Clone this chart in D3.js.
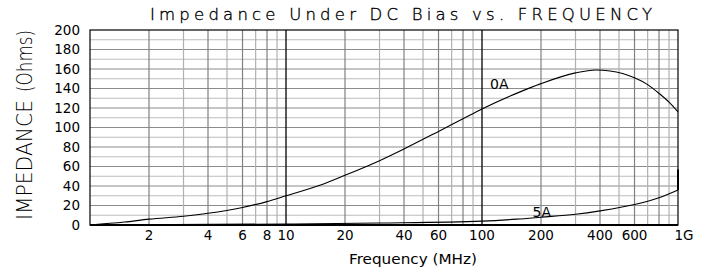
<!DOCTYPE html>
<html><head><meta charset="utf-8">
<script src="https://cdn.jsdelivr.net/npm/d3@7"></script>
<style>body{margin:0;background:#fff}svg{display:block}</style>
</head><body>
<script>
const title = "Impedance  Under  DC  Bias  vs.  FREQUENCY";
const yLabelMain = "IMPEDANCE";
const yLabelUnit = "(Ohms)";
const xLabel = "Frequency (MHz)";
const yTicks = [0,20,40,60,80,100,120,140,160,180,200];
const xTickVals = [2,4,6,8,10,20,40,60,100,200,400,600,1000];
const xTickLabels = ["2","4","6","8","10","20","40","60","100","200","400","600","1G"];
const freq0A = [1,1.5,2,3,4,6,8,10,15,20,30,40,60,80,100,150,200,300,380,450,600,700,800,900,1000];
const imp0A  = [0,3,6,9,12,18,24,30,41,51,66,78,96,109,119,135,145,156,159,158,151,144,135,126,116];
const freq5A = [1,10,30,100,150,200,300,400,600,800,1000,1000];
const imp5A  = [0,1,2,4,6,8,11,14.5,21,28,36,57];
const seriesLabels = [{text:"0A", f:110, v:139.5},{text:"5A", f:181, v:8.2}];

const W=707,H=274;
const m={l:90,r:29,t:30,b:49};
const svg=d3.select("body").append("svg").attr("width",W).attr("height",H);
const x=d3.scaleLog().domain([1,1000]).range([m.l,W-m.r]);
const y=d3.scaleLinear().domain([0,200]).range([H-m.b,m.t]);
const FONT="DejaVu Sans";

// grid
const hg=d3.range(10,200,10);
svg.append("g").selectAll("line").data(hg).join("line")
 .attr("x1",x(1)).attr("x2",x(1000)).attr("y1",d=>y(d)).attr("y2",d=>y(d))
 .attr("stroke",d=>d%20===0?"#8c8c8c":"#bdbdbd").attr("stroke-width",1.2);
const vg=[];
[1,10,100].forEach(dec=>{for(let k=2;k<=9;k++)vg.push(dec*k);});
svg.append("g").selectAll("line").data(vg).join("line")
 .attr("x1",d=>x(d)).attr("x2",d=>x(d)).attr("y1",y(0)).attr("y2",y(200))
 .attr("stroke",d=>{const k=Math.round(d/Math.pow(10,Math.floor(Math.log10(d)+1e-9)));return k%2===0?"#808080":"#b0b0b0";})
 .attr("stroke-width",1.2);
svg.append("g").selectAll("line").data([10,100]).join("line")
 .attr("x1",d=>x(d)).attr("x2",d=>x(d)).attr("y1",y(0)).attr("y2",y(200))
 .attr("stroke","#000").attr("stroke-width",1.3);
// frame
svg.append("rect").attr("x",x(1)).attr("y",y(200)).attr("width",x(1000)-x(1)).attr("height",y(0)-y(200))
 .attr("fill","none").attr("stroke","#000").attr("stroke-width",1.2);
svg.append("line").attr("x1",x(1)).attr("x2",x(1000)).attr("y1",y(0)).attr("y2",y(0)).attr("stroke","#000").attr("stroke-width",2.2);

// curves
const line=d3.line().x(d=>x(d[0])).y(d=>y(d[1])).curve(d3.curveMonotoneX);
const lineL=d3.line().x(d=>x(d[0])).y(d=>y(d[1]));
svg.append("path").attr("d",line(d3.zip(freq0A,imp0A))).attr("fill","none").attr("stroke","#000").attr("stroke-width",1.1);
const p5=d3.zip(freq5A,imp5A);
svg.append("path").attr("d",line(p5.slice(0,-1))).attr("fill","none").attr("stroke","#000").attr("stroke-width",1.1);
svg.append("path").attr("d",lineL(p5.slice(-2))).attr("fill","none").attr("stroke","#000").attr("stroke-width",2);

svg.append("g").selectAll("text").data(seriesLabels).join("text")
 .attr("x",d=>x(d.f)).attr("y",d=>y(d.v)).text(d=>d.text)
 .attr("font-family",FONT).attr("font-size",14).attr("fill","#000");

// y ticks
svg.append("g").selectAll("text").data(yTicks).join("text")
 .attr("x",m.l-10).attr("y",d=>y(d)).attr("dy","0.36em").attr("text-anchor","end").text(d=>d)
 .attr("font-family",FONT).attr("font-size",13.5).attr("fill","#000");
// x ticks
svg.append("g").selectAll("text").data(xTickVals).join("text")
 .attr("x",(d,i)=>x(d)+(d===1000?6:0)).attr("y",240).attr("text-anchor","middle").text((d,i)=>xTickLabels[i])
 .attr("font-family",FONT).attr("font-size",13.5).attr("fill","#000");

svg.append("text").attr("x",413).attr("y",264).attr("text-anchor","middle").text(xLabel)
 .attr("textLength",128).attr("lengthAdjust","spacingAndGlyphs")
 .attr("font-family",FONT).attr("font-size",14).attr("fill","#000");

svg.append("text").attr("x",401).attr("y",20).attr("text-anchor","middle").text(title)
 .attr("textLength",502).attr("lengthAdjust","spacing")
 .attr("font-family",FONT).attr("font-weight",200).attr("font-size",16.5)
 .attr("fill","#000").attr("stroke","#000").attr("stroke-width",0.35);

svg.append("text").attr("transform","translate(32,160) rotate(-90)").attr("text-anchor","middle").text(yLabelMain)
 .attr("textLength",120).attr("lengthAdjust","spacingAndGlyphs")
 .attr("font-family",FONT).attr("font-weight",200).attr("font-size",21).attr("fill","#000");
svg.append("text").attr("transform","translate(32,61) rotate(-90)").attr("text-anchor","middle").text(yLabelUnit)
 .attr("textLength",62).attr("lengthAdjust","spacingAndGlyphs")
 .attr("font-family",FONT).attr("font-weight",200).attr("font-size",21).attr("fill","#000");
</script>
</body></html>
